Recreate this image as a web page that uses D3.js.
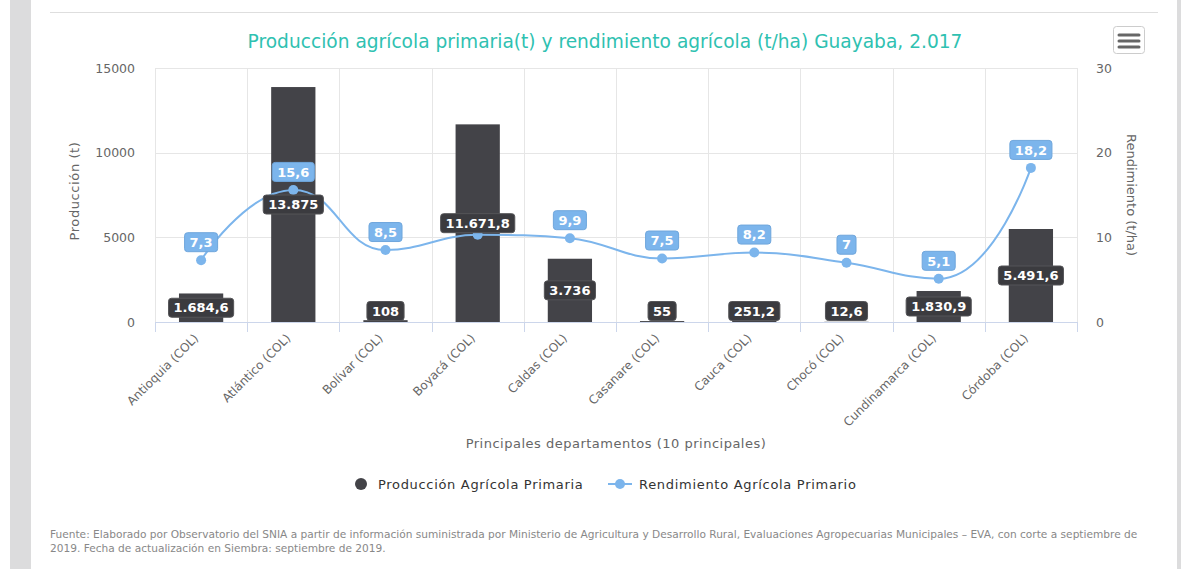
<!DOCTYPE html>
<html>
<head>
<meta charset="utf-8">
<script src="https://cdn.jsdelivr.net/npm/d3@7"></script>
<style>
  html, body { margin: 0; padding: 0; background: #fff; }
  svg { display: block; font-family: "DejaVu Sans", "Open Sans", sans-serif; }
</style>
</head>
<body>
<svg id="chart" width="1181" height="569"></svg>
<script>
// ---- data ----
const categories = ["Antioquia (COL)", "Atlántico (COL)", "Bolívar (COL)", "Boyacá (COL)", "Caldas (COL)",
  "Casanare (COL)", "Cauca (COL)", "Chocó (COL)", "Cundinamarca (COL)", "Córdoba (COL)"];
const produccion = [1684.6, 13875, 108, 11671.8, 3736, 55, 251.2, 12.6, 1830.9, 5491.6];
const rendimiento = [7.3, 15.6, 8.5, 10.3, 9.9, 7.5, 8.2, 7.0, 5.1, 18.2];
const rendimientoLabelHidden = [false, false, false, true, false, false, false, false, false, false];
const leftTicks = [0, 5000, 10000, 15000];
const rightTicks = [0, 10, 20, 30];
const titleText = "Producción agrícola primaria(t) y rendimiento agrícola (t/ha) Guayaba, 2.017";
const leftAxisTitle = "Producción (t)";
const rightAxisTitle = "Rendimiento (t/ha)";
const xAxisTitle = "Principales departamentos (10 principales)";
const seriesNames = ["Producción Agrícola Primaria", "Rendimiento Agrícola Primario"];
const footerLines = [
  "Fuente: Elaborado por Observatorio del SNIA a partir de información suministrada por Ministerio de Agricultura y Desarrollo Rural, Evaluaciones Agropecuarias Municipales – EVA, con corte a septiembre de",
  "2019. Fecha de actualización en Siembra: septiembre de 2019."
];

// ---- layout ----
const svg = d3.select("#chart");
const W = 1181, H = 569;
const plot = { left: 155, right: 1077, top: 68, bottom: 322 };
const barColor = "#434348";
const lineColor = "#7cb5ec";

const fmtES = (v) => {
  const s = d3.format(",")(v);
  return s.replace(/,/g, "#").replace(/\./g, ",").replace(/#/g, ".");
};

// page chrome
svg.append("rect").attr("x", 10).attr("y", 0).attr("width", 21).attr("height", H).attr("fill", "#dcdcdd");
svg.append("rect").attr("x", 1177).attr("y", 0).attr("width", 4).attr("height", H).attr("fill", "#dcdcdd");
svg.append("line").attr("x1", 50).attr("x2", 1158).attr("y1", 12.5).attr("y2", 12.5)
  .attr("stroke", "#dedede").attr("stroke-width", 1);

// scales
const x = d3.scaleBand().domain(categories).range([plot.left, plot.right]).padding(0);
const yL = d3.scaleLinear().domain([0, 15000]).range([plot.bottom, plot.top]);
const yR = d3.scaleLinear().domain([0, 30]).range([plot.bottom, plot.top]);

// grid: horizontal
svg.append("g").selectAll("line").data(leftTicks.filter(d => d > 0)).join("line")
  .attr("x1", plot.left).attr("x2", plot.right)
  .attr("y1", d => Math.round(yL(d)) + 0.5).attr("y2", d => Math.round(yL(d)) + 0.5)
  .attr("stroke", "#e6e6e6");
// grid: vertical (category boundaries)
const bounds = categories.map(c => x(c)).concat([x(categories[categories.length - 1]) + x.bandwidth()]);
svg.append("g").selectAll("line").data(bounds).join("line")
  .attr("x1", d => Math.round(d) + 0.5).attr("x2", d => Math.round(d) + 0.5)
  .attr("y1", plot.top).attr("y2", plot.bottom)
  .attr("stroke", "#e6e6e6");

// x axis line + ticks
const xAxisG = svg.append("g").attr("transform", `translate(0,${plot.bottom})`);
xAxisG.append("line").attr("x1", plot.left).attr("x2", plot.right).attr("y1", 0.5).attr("y2", 0.5)
  .attr("stroke", "#ccd6eb");
xAxisG.selectAll("line.tick").data(bounds).join("line").attr("class", "tick")
  .attr("x1", d => Math.round(d) + 0.5).attr("x2", d => Math.round(d) + 0.5)
  .attr("y1", 0).attr("y2", 10).attr("stroke", "#ccd6eb");
xAxisG.selectAll("text").data(categories).join("text")
  .attr("transform", d => `translate(${x(d) + x.bandwidth() / 2 - 2},${17}) rotate(-45)`)
  .attr("text-anchor", "end")
  .attr("fill", "#666").attr("font-size", 12).text(d => d);

// left axis
const leftAxis = d3.axisLeft(yL).tickValues(leftTicks).tickSize(0).tickPadding(0).tickFormat(d => String(d));
const gL = svg.append("g").attr("transform", `translate(${plot.left - 20},0)`).call(leftAxis);
gL.select(".domain").remove();
gL.selectAll("text").attr("fill", "#666").attr("font-size", 12.5).attr("font-family", "DejaVu Sans").attr("dy", "0.32em");

// right axis
const rightAxis = d3.axisRight(yR).tickValues(rightTicks).tickSize(0).tickPadding(0).tickFormat(d => String(d));
const gR = svg.append("g").attr("transform", `translate(${plot.right + 19},0)`).call(rightAxis);
gR.select(".domain").remove();
gR.selectAll("text").attr("fill", "#666").attr("font-size", 12.5).attr("font-family", "DejaVu Sans").attr("dy", "0.32em");

// axis titles
svg.append("text").attr("transform", `translate(79,${(plot.top + plot.bottom) / 2 - 4}) rotate(-90)`)
  .attr("text-anchor", "middle").attr("fill", "#666").attr("font-size", 13)
  .attr("letter-spacing", 0.6).text(leftAxisTitle);
svg.append("text").attr("transform", `translate(1127,${(plot.top + plot.bottom) / 2}) rotate(90)`)
  .attr("text-anchor", "middle").attr("fill", "#666").attr("font-size", 13).text(rightAxisTitle);
svg.append("text").attr("x", 616).attr("y", 448)
  .attr("text-anchor", "middle").attr("fill", "#666").attr("font-size", 13)
  .attr("letter-spacing", 0.5).text(xAxisTitle);

// title
svg.append("text").attr("x", 605).attr("y", 48).attr("text-anchor", "middle")
  .attr("fill", "#2fc1b1").attr("font-size", 18.6).text(titleText);

// menu button
const menu = svg.append("g");
menu.append("rect").attr("x", 1113.5).attr("y", 26.5).attr("width", 31).attr("height", 27).attr("rx", 3)
  .attr("fill", "#fff").attr("stroke", "#cccccc");
[35, 41, 47].forEach(yy => {
  menu.append("line").attr("x1", 1119).attr("x2", 1139).attr("y1", yy).attr("y2", yy)
    .attr("stroke", "#666").attr("stroke-width", 3).attr("stroke-linecap", "round");
});

// bars
const barW = x.bandwidth() * 0.48;
svg.append("g").selectAll("rect").data(produccion).join("rect")
  .attr("x", (d, i) => x(categories[i]) + (x.bandwidth() - barW) / 2)
  .attr("y", d => yL(d))
  .attr("width", barW)
  .attr("height", d => plot.bottom - yL(d))
  .attr("fill", barColor);

// spline (Highcharts-style)
const pts = rendimiento.map((v, i) => ({ x: x(categories[i]) + x.bandwidth() / 2, y: yR(v) }));
function splinePath(p) {
  const sm = 1.5, den = sm + 1;
  let d = `M${p[0].x},${p[0].y}`;
  const ctrl = p.map(() => ({}));
  for (let i = 1; i < p.length - 1; i++) {
    const last = p[i - 1], pt = p[i], next = p[i + 1];
    let lcx = (sm * pt.x + last.x) / den, lcy = (sm * pt.y + last.y) / den;
    let rcx = (sm * pt.x + next.x) / den, rcy = (sm * pt.y + next.y) / den;
    const dL = Math.hypot(lcx - pt.x, lcy - pt.y), dR = Math.hypot(rcx - pt.x, rcy - pt.y);
    const la = Math.atan2(lcy - pt.y, lcx - pt.x), ra = Math.atan2(rcy - pt.y, rcx - pt.x);
    let ja = Math.PI / 2 + (la + ra) / 2;
    if (Math.abs(la - ja) > Math.PI / 2) ja -= Math.PI;
    lcx = pt.x + Math.cos(ja) * dL; lcy = pt.y + Math.sin(ja) * dL;
    rcx = pt.x + Math.cos(Math.PI + ja) * dR; rcy = pt.y + Math.sin(Math.PI + ja) * dR;
    if (lcy > last.y && lcy > pt.y) { lcy = Math.max(last.y, pt.y); rcy = 2 * pt.y - lcy; }
    else if (lcy < last.y && lcy < pt.y) { lcy = Math.min(last.y, pt.y); rcy = 2 * pt.y - lcy; }
    if (rcy > next.y && rcy > pt.y) { rcy = Math.max(next.y, pt.y); lcy = 2 * pt.y - rcy; }
    else if (rcy < next.y && rcy < pt.y) { rcy = Math.min(next.y, pt.y); lcy = 2 * pt.y - rcy; }
    ctrl[i] = { lx: lcx, ly: lcy, rx: rcx, ry: rcy };
  }
  for (let i = 1; i < p.length; i++) {
    const a = ctrl[i - 1], b = ctrl[i];
    const c1x = a.rx ?? p[i - 1].x, c1y = a.ry ?? p[i - 1].y;
    const c2x = b.lx ?? p[i].x, c2y = b.ly ?? p[i].y;
    d += `C${c1x},${c1y},${c2x},${c2y},${p[i].x},${p[i].y}`;
  }
  return d;
}
svg.append("path").attr("d", splinePath(pts)).attr("fill", "none")
  .attr("stroke", lineColor).attr("stroke-width", 2);
svg.append("g").selectAll("circle").data(pts).join("circle")
  .attr("cx", d => d.x).attr("cy", d => d.y).attr("r", 5).attr("fill", lineColor);

// data labels helper
function drawLabel(g, cx, cy, text, fill, stroke, fs) {
  const t = g.append("text").attr("x", cx).attr("y", cy).attr("dy", "0.36em")
    .attr("text-anchor", "middle").attr("fill", "#fff").attr("font-size", fs)
    .attr("font-weight", "bold").text(text);
  const bb = t.node().getBBox();
  const w = bb.width + 10, h = 19;
  g.insert("rect", () => t.node())
    .attr("x", cx - w / 2).attr("y", cy - h / 2).attr("width", w).attr("height", h)
    .attr("rx", 3).attr("fill", fill).attr("stroke", stroke).attr("stroke-width", 1);
}

// production labels (inside, middle, kept inside plot)
const gPL = svg.append("g");
produccion.forEach((v, i) => {
  const cx = x(categories[i]) + x.bandwidth() / 2;
  let cy = (yL(v) + plot.bottom) / 2;
  cy = Math.min(cy, plot.bottom - 11);
  drawLabel(gPL, cx, cy, fmtES(v), "#3b3b3f", "#555558", 13);
});

// rendimiento labels (above points)
const gRL = svg.append("g");
rendimiento.forEach((v, i) => {
  if (rendimientoLabelHidden[i]) return;
  drawLabel(gRL, pts[i].x, pts[i].y - 18, fmtES(v), "#7cb5ec", "#6fa6dc", 13);
});

// legend
const lg = svg.append("g");
lg.append("circle").attr("cx", 361).attr("cy", 484).attr("r", 6).attr("fill", barColor);
lg.append("text").attr("x", 378).attr("y", 484).attr("dy", "0.35em").attr("fill", "#333")
  .attr("font-size", 13).attr("letter-spacing", 0.68).text(seriesNames[0]);
lg.append("line").attr("x1", 608).attr("x2", 632).attr("y1", 484).attr("y2", 484)
  .attr("stroke", lineColor).attr("stroke-width", 2);
lg.append("circle").attr("cx", 620).attr("cy", 484).attr("r", 5).attr("fill", lineColor);
lg.append("text").attr("x", 639).attr("y", 484).attr("dy", "0.35em").attr("fill", "#333")
  .attr("font-size", 13).attr("letter-spacing", 0.7).text(seriesNames[1]);

// footer
svg.append("g").selectAll("text").data(footerLines).join("text")
  .attr("x", 50).attr("y", (d, i) => 538 + i * 14)
  .attr("fill", "#888").attr("font-size", 10.6).text(d => d);
</script>
</body>
</html>
